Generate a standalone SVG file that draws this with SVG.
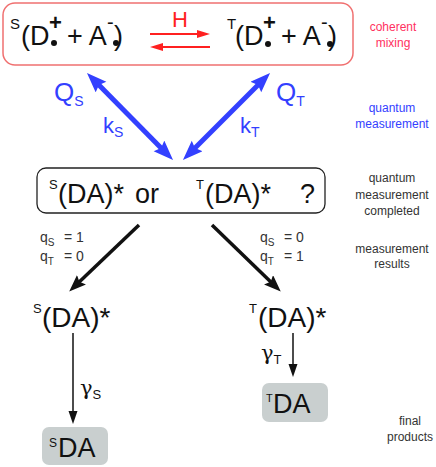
<svg xmlns="http://www.w3.org/2000/svg" width="436" height="467" viewBox="0 0 436 467">
<style>
text{font-family:"Liberation Sans",Arial,sans-serif}
.big{font-size:27px;fill:#111}
.sup{font-size:13px;fill:#111}
.plus{font-size:22px;font-weight:bold;fill:#111}
.side{font-size:12px;text-anchor:middle}
.blue{fill:#3340ff}
.q{font-size:14px;fill:#333}
.qs{font-size:10px;fill:#333}
</style>
<defs>
<marker id="mb" markerUnits="userSpaceOnUse" markerWidth="22" markerHeight="16" refX="10" refY="7.5" orient="auto-start-reverse"><path d="M0,0 L20,7.5 L0,15 L3,7.5 z" fill="#3340ff"/></marker>
<marker id="mk" markerUnits="userSpaceOnUse" markerWidth="18" markerHeight="14" refX="9" refY="6.5" orient="auto"><path d="M0,0 L17,6.5 L0,13 L3,6.5 z" fill="#111"/></marker>
<marker id="mt" markerUnits="userSpaceOnUse" markerWidth="14" markerHeight="10" refX="6" refY="4.5" orient="auto"><path d="M0,0 L13,4.5 L0,9 z" fill="#111"/></marker>
<marker id="mr" markerUnits="userSpaceOnUse" markerWidth="14" markerHeight="10" refX="6" refY="4" orient="auto"><path d="M0,0 L13,4 L0,8 z" fill="#ff2020"/></marker>
</defs>

<g id="mixing">
<rect x="3" y="3" width="350" height="62" rx="12" fill="none" stroke="#f07070" stroke-width="1.5"/>
<text x="10" y="29" style="font-size:15px;fill:#111">S</text>
<text class="big" x="21" y="45">(D</text>
<text class="plus" x="49" y="30">+</text>
<circle cx="54" cy="43" r="3" fill="#111"/>
<text class="big" x="67" y="45">+ A</text>
<text x="107" y="29" style="font-size:20px;fill:#111">-</text>
<circle cx="116" cy="43" r="3" fill="#111"/>
<text class="big" x="114" y="45">)</text>
<text x="180" y="27" text-anchor="middle" style="font-size:22px;fill:#ff2020">H</text>
<text x="227" y="29" style="font-size:15px;fill:#111">T</text>
<text class="big" x="235" y="45">(D</text>
<text class="plus" x="263" y="30">+</text>
<circle cx="268" cy="44" r="3" fill="#111"/>
<text class="big" x="281" y="45">+ A</text>
<text x="321" y="29" style="font-size:20px;fill:#111">-</text>
<circle cx="330" cy="44" r="3" fill="#111"/>
<text class="big" x="328" y="45">)</text>
</g>

<g id="question">
<rect x="37" y="168" width="288" height="45" rx="9" fill="#fff" stroke="#222" stroke-width="1.3"/>
<text class="sup" x="49" y="189">S</text>
<text class="big" x="58" y="203">(DA)*</text>
<text class="big" x="135" y="203">or</text>
<text class="sup" x="196" y="189">T</text>
<text class="big" x="205" y="203">(DA)*</text>
<text class="big" x="300" y="203">?</text>
</g>

<g id="singlet">
<text class="sup" x="33" y="313">S</text>
<text class="big" x="42" y="327" style="font-size:28px">(DA)*</text>
</g>
<g id="triplet">
<text class="sup" x="249" y="313">T</text>
<text class="big" x="258" y="327" style="font-size:28px">(DA)*</text>
</g>

<g id="sda">
<rect x="42" y="427" width="66" height="38" rx="7" fill="#c9cfcf"/>
<text x="49" y="447" style="font-size:12px;fill:#111">S</text>
<text class="big" x="58" y="457">DA</text>
</g>
<g id="tda">
<rect x="262" y="383" width="66" height="39" rx="7" fill="#c9cfcf"/>
<text x="266" y="402" style="font-size:11px;fill:#111">T</text>
<text class="big" x="273" y="413">DA</text>
</g>

<g id="connectors">
<line x1="150" y1="34" x2="203" y2="34" stroke="#ff2020" stroke-width="2" marker-end="url(#mr)"/>
<line x1="210" y1="47" x2="157" y2="47" stroke="#ff2020" stroke-width="2" marker-end="url(#mr)"/>
<line x1="94" y1="80" x2="166" y2="153" stroke="#3340ff" stroke-width="5" marker-start="url(#mb)" marker-end="url(#mb)"/>
<line x1="263" y1="80" x2="190" y2="153" stroke="#3340ff" stroke-width="5" marker-start="url(#mb)" marker-end="url(#mb)"/>
<line x1="139" y1="225" x2="75" y2="286" stroke="#111" stroke-width="3.5" marker-end="url(#mk)"/>
<line x1="212" y1="225" x2="275" y2="286" stroke="#111" stroke-width="3.5" marker-end="url(#mk)"/>
<line x1="73" y1="333" x2="73" y2="417" stroke="#111" stroke-width="1.5" marker-end="url(#mt)"/>
<line x1="293" y1="333" x2="293" y2="370" stroke="#111" stroke-width="1.5" marker-end="url(#mt)"/>
</g>

<g id="rates">
<text class="blue" x="54" y="101" style="font-size:26px">Q<tspan style="font-size:14px" dy="5">S</tspan></text>
<text class="blue" x="103" y="133" style="font-size:22px">k<tspan style="font-size:14px" dy="4">S</tspan></text>
<text class="blue" x="276" y="101" style="font-size:26px">Q<tspan style="font-size:14px" dy="5">T</tspan></text>
<text class="blue" x="240" y="133" style="font-size:22px">k<tspan style="font-size:14px" dy="4">T</tspan></text>
<text x="40" y="242" class="q">q<tspan class="qs" dy="4">S</tspan></text>
<text x="64" y="242" class="q">= 1</text>
<text x="40" y="261" class="q">q<tspan class="qs" dy="4">T</tspan></text>
<text x="64" y="261" class="q">= 0</text>
<text x="260" y="242" class="q">q<tspan class="qs" dy="4">S</tspan></text>
<text x="284" y="242" class="q">= 0</text>
<text x="260" y="261" class="q">q<tspan class="qs" dy="4">T</tspan></text>
<text x="284" y="261" class="q">= 1</text>
<text x="80" y="395" style="font-size:21px;font-family:'DejaVu Serif',serif;fill:#111">γ<tspan style="font-size:13px;font-family:'Liberation Sans',sans-serif" dy="4">S</tspan></text>
<text x="261" y="360" style="font-size:21px;font-family:'DejaVu Serif',serif;fill:#111">γ<tspan style="font-size:13px;font-family:'Liberation Sans',sans-serif" dy="4">T</tspan></text>
</g>

<g id="side-labels">
<text class="side" x="393" y="31" fill="#ff3060">coherent</text>
<text class="side" x="393" y="47" fill="#ff3060">mixing</text>
<text class="side" x="392" y="112" fill="#3340ff">quantum</text>
<text class="side" x="392" y="128" fill="#3340ff">measurement</text>
<text class="side" x="392" y="182" fill="#333">quantum</text>
<text class="side" x="392" y="199" fill="#333">measurement</text>
<text class="side" x="392" y="215" fill="#333">completed</text>
<text class="side" x="392" y="253" fill="#333">measurement</text>
<text class="side" x="392" y="268" fill="#333">results</text>
<text class="side" x="410" y="425" fill="#333">final</text>
<text class="side" x="410" y="441" fill="#333">products</text>
</g>
</svg>
